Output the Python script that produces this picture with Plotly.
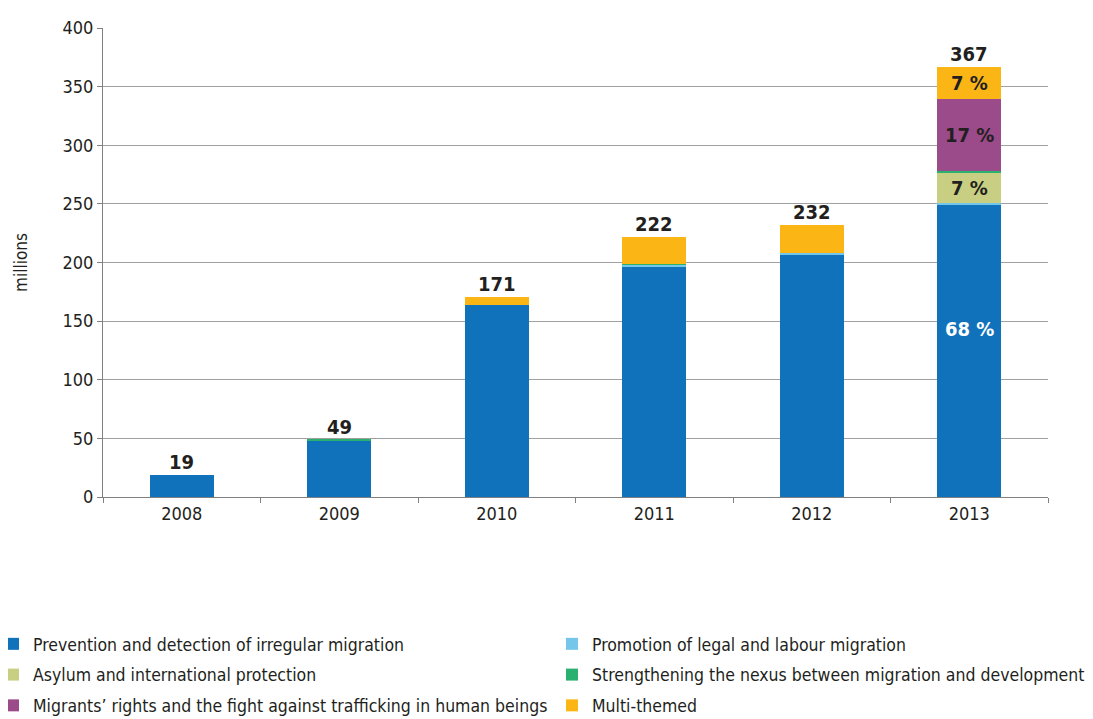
import plotly.graph_objects as go

years = ["2008", "2009", "2010", "2011", "2012", "2013"]
series_names = [
    "Prevention and detection of irregular migration",
    "Promotion of legal and labour migration",
    "Asylum and international protection",
    "Strengthening the nexus between migration and development",
    "Migrants\u2019 rights and the fight against trafficking in human beings",
    "Multi-themed",
]
prevention = [19, 48, 164, 196, 206, 249]
promotion = [0, 0, 0, 2, 2, 2]
asylum = [0, 0, 0, 0, 0, 25]
nexus = [0, 1, 0, 1, 0, 2]
rights = [0, 0, 0, 0, 0, 61.5]
multi = [0, 0, 7, 23, 24, 27.5]
totals = [19, 49, 171, 222, 232, 367]
pct_labels_2013 = ["68 %", "7 %", "17 %", "7 %"]
colors = ["#1172BC", "#74C7EA", "#C8CF82", "#2AB06F", "#9B4A8A", "#FBB615"]
legend_ids = ["legend", "legend2", "legend", "legend2", "legend", "legend2"]

font = "DejaVu Sans Condensed, Liberation Sans Narrow, Roboto, sans-serif"
fig = go.Figure()
for i, (name, vals, col) in enumerate(zip(series_names, [prevention, promotion, asylum, nexus, rights, multi], colors)):
    fig.add_trace(go.Bar(x=years, y=vals, name=name, legend=legend_ids[i], legendgroup="g%d" % i,
                         marker=dict(color=col, line=dict(width=0))))

ann = []
for idx, t in enumerate(totals):
    ann.append(dict(x=idx, y=t, text="<b>%d</b>" % t, showarrow=False, yanchor="bottom",
                    yshift=-1, font=dict(size=20, color="#231F20", family=font)))

cum = 0
segs = [prevention[5], promotion[5], asylum[5], nexus[5], rights[5], multi[5]]
bounds = []
for v in segs:
    bounds.append((cum, cum + v))
    cum += v
label_segments = [0, 2, 4, 5]
last = len(years) - 1
for lbl, si in zip(pct_labels_2013, label_segments):
    lo, hi = bounds[si]
    ann.append(dict(x=last, y=(lo + hi) / 2, text="<b>%s</b>" % lbl, showarrow=False,
                    yshift=22 if si == 0 else 0,
                    font=dict(size=20, color="white" if si == 0 else "#231F20", family=font)))

legend_common = dict(orientation="v", yanchor="top", y=-0.275, xanchor="left",
                     font=dict(size=17.5, family=font, color="#231F20"),
                     itemwidth=30, tracegroupgap=5, bgcolor="rgba(0,0,0,0)")

fig.update_layout(
    width=1085, height=711,
    barmode="stack", bargap=0.595,
    plot_bgcolor="white", paper_bgcolor="white",
    margin=dict(l=95, r=45, t=20, b=222, autoexpand=False),
    font=dict(family=font, size=18, color="#231F20"),
    annotations=ann,
    showlegend=True,
    legend=dict(x=-0.1164, **legend_common),
    legend2=dict(x=0.4751, **legend_common),
    xaxis=dict(type="category", range=[-0.5, 5.5], showline=True, linecolor="#808080", linewidth=1,
               ticks="outside", tickson="boundaries", ticklen=5, tickcolor="#808080",
               tickfont=dict(size=18), showgrid=False),
    yaxis=dict(range=[0, 400], dtick=50, showgrid=True, gridcolor="#A0A0A0", gridwidth=1,
               showline=True, linecolor="#808080", ticks="outside", ticklen=5, tickcolor="#808080",
               tickfont=dict(size=18), zeroline=False,
               title=dict(text="millions", font=dict(size=17), standoff=30)),
)
fig.write_html("out.html")
